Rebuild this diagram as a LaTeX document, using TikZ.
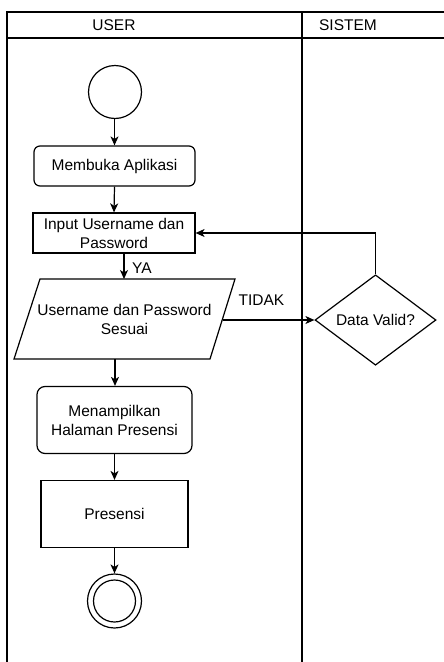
\documentclass[tikz,border=0pt]{standalone}
\usepackage{fontspec}
\setmainfont{Liberation Sans}
\usetikzlibrary{arrows.meta,shapes.geometric}
\begin{document}
\begin{tikzpicture}[x=1pt,y=-1pt,
  every node/.style={font=\fontsize{15.5}{19}\selectfont, align=center},
  boxstyle/.style={draw, line width=1.2pt, inner sep=0pt},
  flow/.style={line width=1.2pt, -{Stealth[length=9pt,width=8pt,inset=2.5pt]}},
  lane/.style={line width=1.3pt},
  lbl/.style={inner sep=0pt}]
\useasboundingbox (0,0) rectangle (444,662);
% swimlane frame
\draw[lane] (7,662) -- (7,12) -- (444,12);
\draw[lane] (7,38) -- (444,38);
\draw[lane] (302,12) -- (302,662);
\node[lbl] (huser) at (114,25) {USER};
\node[lbl] (hsis) at (348,25) {SISTEM};
% nodes
\node[boxstyle, circle, minimum size=53pt] (start) at (115,92) {};
\node[boxstyle, rounded corners=6pt, minimum width=161pt, minimum height=40pt] (open) at (114.5,166) {Membuka Aplikasi};
\node[boxstyle, minimum width=162pt, minimum height=40pt] (inp) at (114,233) {Input Username dan\\Password};
\node[lbl] (par) at (124.5,319) {Username dan Password\\Sesuai};
\draw[line width=1.2pt] (40,279) -- (235,279) -- (210,359) -- (14,359) -- cycle;
\coordinate (parT) at (124,279);
\coordinate (parR) at (222.5,320);
\coordinate (parB) at (115,359);
\node[boxstyle, diamond, minimum width=121pt, minimum height=66pt] (valid) at (375.5,320) {Data Valid?};
\node[boxstyle, rounded corners=8pt, minimum width=155pt, minimum height=67pt] (show) at (114.5,420) {Menampilkan\\Halaman Presensi};
\node[boxstyle, minimum width=147pt, minimum height=67pt] (pres) at (114.5,514) {Presensi};
\node[boxstyle, circle, minimum size=54pt] (end) at (114.5,601) {};
\node[draw, line width=1.2pt, circle, minimum size=42pt, inner sep=0pt] (endin) at (end.center) {};
% connectors
\draw[flow] (start.south -| open.north) -- (open.north);
\draw[flow] (open.south) -- (inp.north);
\draw[flow] (inp.south -| parT) -- (parT);
\node[lbl] (ya) at (142,268) {YA};
\draw[flow] (parR) -- (valid.west);
\node[lbl] (tidak) at (261.5,300) {TIDAK};
\draw[flow] (valid.north) |- (inp.east);
\draw[flow] (parB) -- (parB |- show.north);
\draw[flow] (show.south) -- (pres.north);
\draw[flow] (pres.south) -- (end.north);
\end{tikzpicture}
\end{document}
